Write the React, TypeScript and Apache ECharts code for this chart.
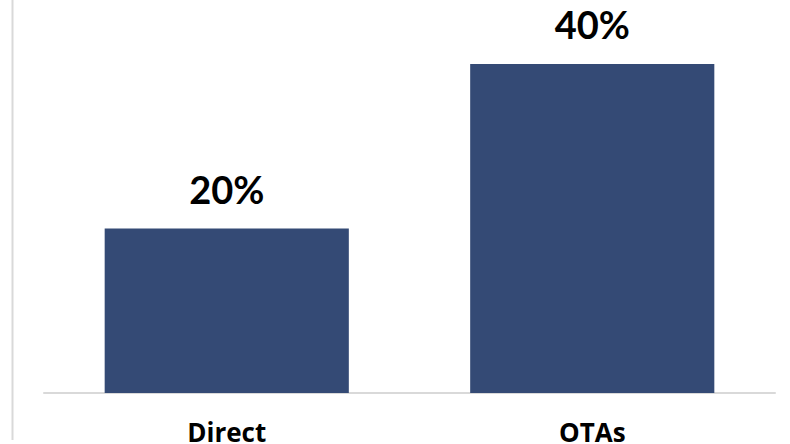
import React, { useEffect, useRef } from "react";
import * as echarts from "echarts";

const categories = ["Direct", "OTAs"];
const values = [20, 40];

export default function App() {
  const ref = useRef<HTMLDivElement>(null);
  useEffect(() => {
    const chart = echarts.init(ref.current!, null, { renderer: "svg" });
    chart.setOption({
      animation: false,
      backgroundColor: "#ffffff",
      graphic: [
        {
          type: "line",
          shape: { x1: 12.5, y1: 0, x2: 12.5, y2: 440 },
          style: { stroke: "#d9d9d9", lineWidth: 2 },
        },
      ],
      grid: { left: 44, right: 15, top: 64, bottom: 51, outerBoundsMode: "none", containLabel: false },
      xAxis: {
        type: "category",
        data: categories,
        axisLine: { show: true, lineStyle: { color: "#d9d9d9", width: 2 } },
        axisTick: { show: false },
        axisLabel: {
          color: "#000000",
          fontFamily: "Open Sans",
          fontWeight: "bold",
          fontSize: 26,
          margin: 26,
        },
      },
      yAxis: {
        type: "value",
        min: 0,
        max: 40,
        show: false,
        splitLine: { show: false },
      },
      series: [
        {
          type: "bar",
          data: values,
          barWidth: "66.8%",
          itemStyle: { color: "#344a75" },
          label: {
            show: true,
            position: "top",
            distance: 21,
            formatter: "{c}%",
            color: "#000000",
            fontFamily: "Lato",
            fontWeight: "bold",
            fontSize: 38,
          },
        },
      ],
    });
    return () => chart.dispose();
  }, []);
  return <div ref={ref} style={{ width: 790, height: 444, position: "absolute", left: 0, top: 0 }} />;
}
